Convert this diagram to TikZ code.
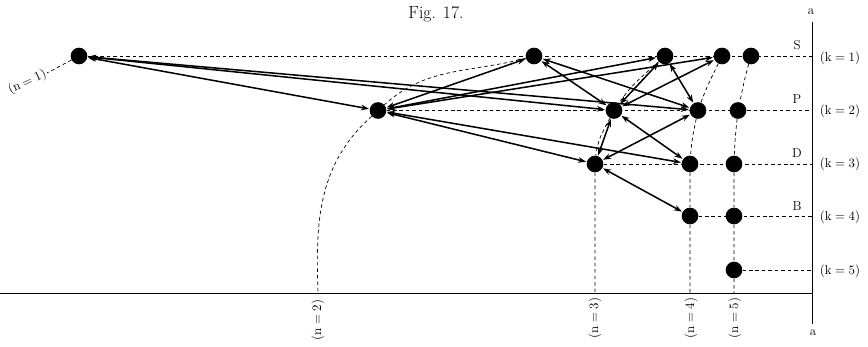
\documentclass[tikz,border=0pt]{standalone}
\usetikzlibrary{arrows.meta}

\begin{document}
\begin{tikzpicture}[x=0.3mm,y=0.3mm,>={Stealth[length=2.4mm,width=1.7mm]},
level/.style={circle,fill=black,inner sep=0pt,minimum size=5mm},
guide/.style={line width=0.6pt,dash pattern=on 3pt off 2.5pt},
trans/.style={<->,line width=1.3pt,shorten <=0.5pt,shorten >=0.5pt},
lbl/.style={font=\fontsize{11}{13}\selectfont,inner sep=1pt}]
\useasboundingbox (0,0) rectangle (868,-347);
% levels
\node[level] (s1) at (79,-56) {};
\node[level] (s2) at (534,-56) {};
\node[level] (s3) at (665,-56) {};
\node[level] (s4) at (722,-56) {};
\node[level] (s5) at (751,-56) {};
\node[level] (p2) at (378,-110.5) {};
\node[level] (p3) at (614,-110.5) {};
\node[level] (p4) at (698,-110.5) {};
\node[level] (p5) at (738,-110.5) {};
\node[level] (d3) at (595,-164) {};
\node[level] (d4) at (690,-164) {};
\node[level] (d5) at (734,-164) {};
\node[level] (b4) at (690,-216) {};
\node[level] (b5) at (734,-216) {};
\node[level] (f5) at (734,-270) {};
% axes
\coordinate (top) at (812,-22);
\coordinate (bot) at (812,-324);
\coordinate (orig) at (0,-293);
\coordinate (corner) at (812,-293);
\draw[line width=0.8pt] (top) -- (bot);
\draw[line width=0.8pt] (orig) -- (corner);
\node[lbl] (atop) at (811,-12) {a};
\node[lbl] (abot) at (813,-333) {a};
\node[font=\fontsize{15}{17}\selectfont] (title) at (436,-14) {Fig. 17.};
% row guides
\coordinate (kS) at (812,-56);
\coordinate (kP) at (812,-110.5);
\coordinate (kD) at (812,-164);
\coordinate (kB) at (812,-216);
\coordinate (kF) at (812,-270);
\draw[guide] (s1) -- (kS);
\draw[guide] (p2) -- (kP);
\draw[guide] (d3) -- (kD);
\draw[guide] (b4) -- (kB);
\draw[guide] (f5) -- (kF);
\node[lbl] (labS) at (797,-45) {S};
\node[lbl] (labP) at (797,-99) {P};
\node[lbl] (labD) at (797,-153) {D};
\node[lbl] (labB) at (797,-206) {B};
\node[lbl] (k1) at (840,-58) {$(\mathrm{k}=1)$};
\node[lbl] (k2) at (840,-111) {$(\mathrm{k}=2)$};
\node[lbl] (k3) at (840,-164) {$(\mathrm{k}=3)$};
\node[lbl] (k4) at (840,-217) {$(\mathrm{k}=4)$};
\node[lbl] (k5) at (840,-271) {$(\mathrm{k}=5)$};
% column guides
\coordinate (n2) at (318,-293);
\coordinate (n3) at (595,-293);
\coordinate (n4) at (690,-293);
\coordinate (n5) at (734,-293);
\node[lbl,rotate=25,anchor=east] (lab1) at (47,-73) {$(\mathrm{n}=1)$};
\draw[guide] (s1) -- (lab1.east);
\draw[guide] (s2) to[out=195,in=42] (p2) to[out=222,in=92] (n2);
\draw[guide] (s3) to[out=222,in=56] (p3) to[out=242,in=84] (d3) -- (n3);
\draw[guide] (s4) to[out=244,in=70] (p4) to[out=258,in=86] (d4) -- (b4) -- (n4);
\draw[guide] (s5) to[out=254,in=78] (p5) to[out=264,in=88] (d5) -- (b5) -- (f5) -- (n5);
\node[lbl,rotate=90] (lab2) at (318,-320) {$(\mathrm{n}=2)$};
\node[lbl,rotate=90] (lab3) at (595,-318) {$(\mathrm{n}=3)$};
\node[lbl,rotate=90] (lab4) at (691,-318) {$(\mathrm{n}=4)$};
\node[lbl,rotate=90] (lab5) at (735,-318) {$(\mathrm{n}=5)$};
% transitions
\draw[trans] (s1) -- (p2);
\draw[trans] (s1) -- (p3);
\draw[trans] (s1) -- (p4);
\draw[trans] (p2) -- (s2);
\draw[trans] (p2) -- (s3);
\draw[trans] (p2) -- (s4);
\draw[trans] (p2) -- (d3);
\draw[trans] (p2) -- (d4);
\draw[trans] (s2) -- (p3);
\draw[trans] (s2) -- (p4);
\draw[trans] (p3) -- (s3);
\draw[trans] (p3) -- (s4);
\draw[trans] (s3) -- (p4);
\draw[trans] (p3) -- (d3);
\draw[trans] (p3) -- (d4);
\draw[trans] (d3) -- (p4);
\draw[trans] (d3) -- (b4);
\end{tikzpicture}
\end{document}
